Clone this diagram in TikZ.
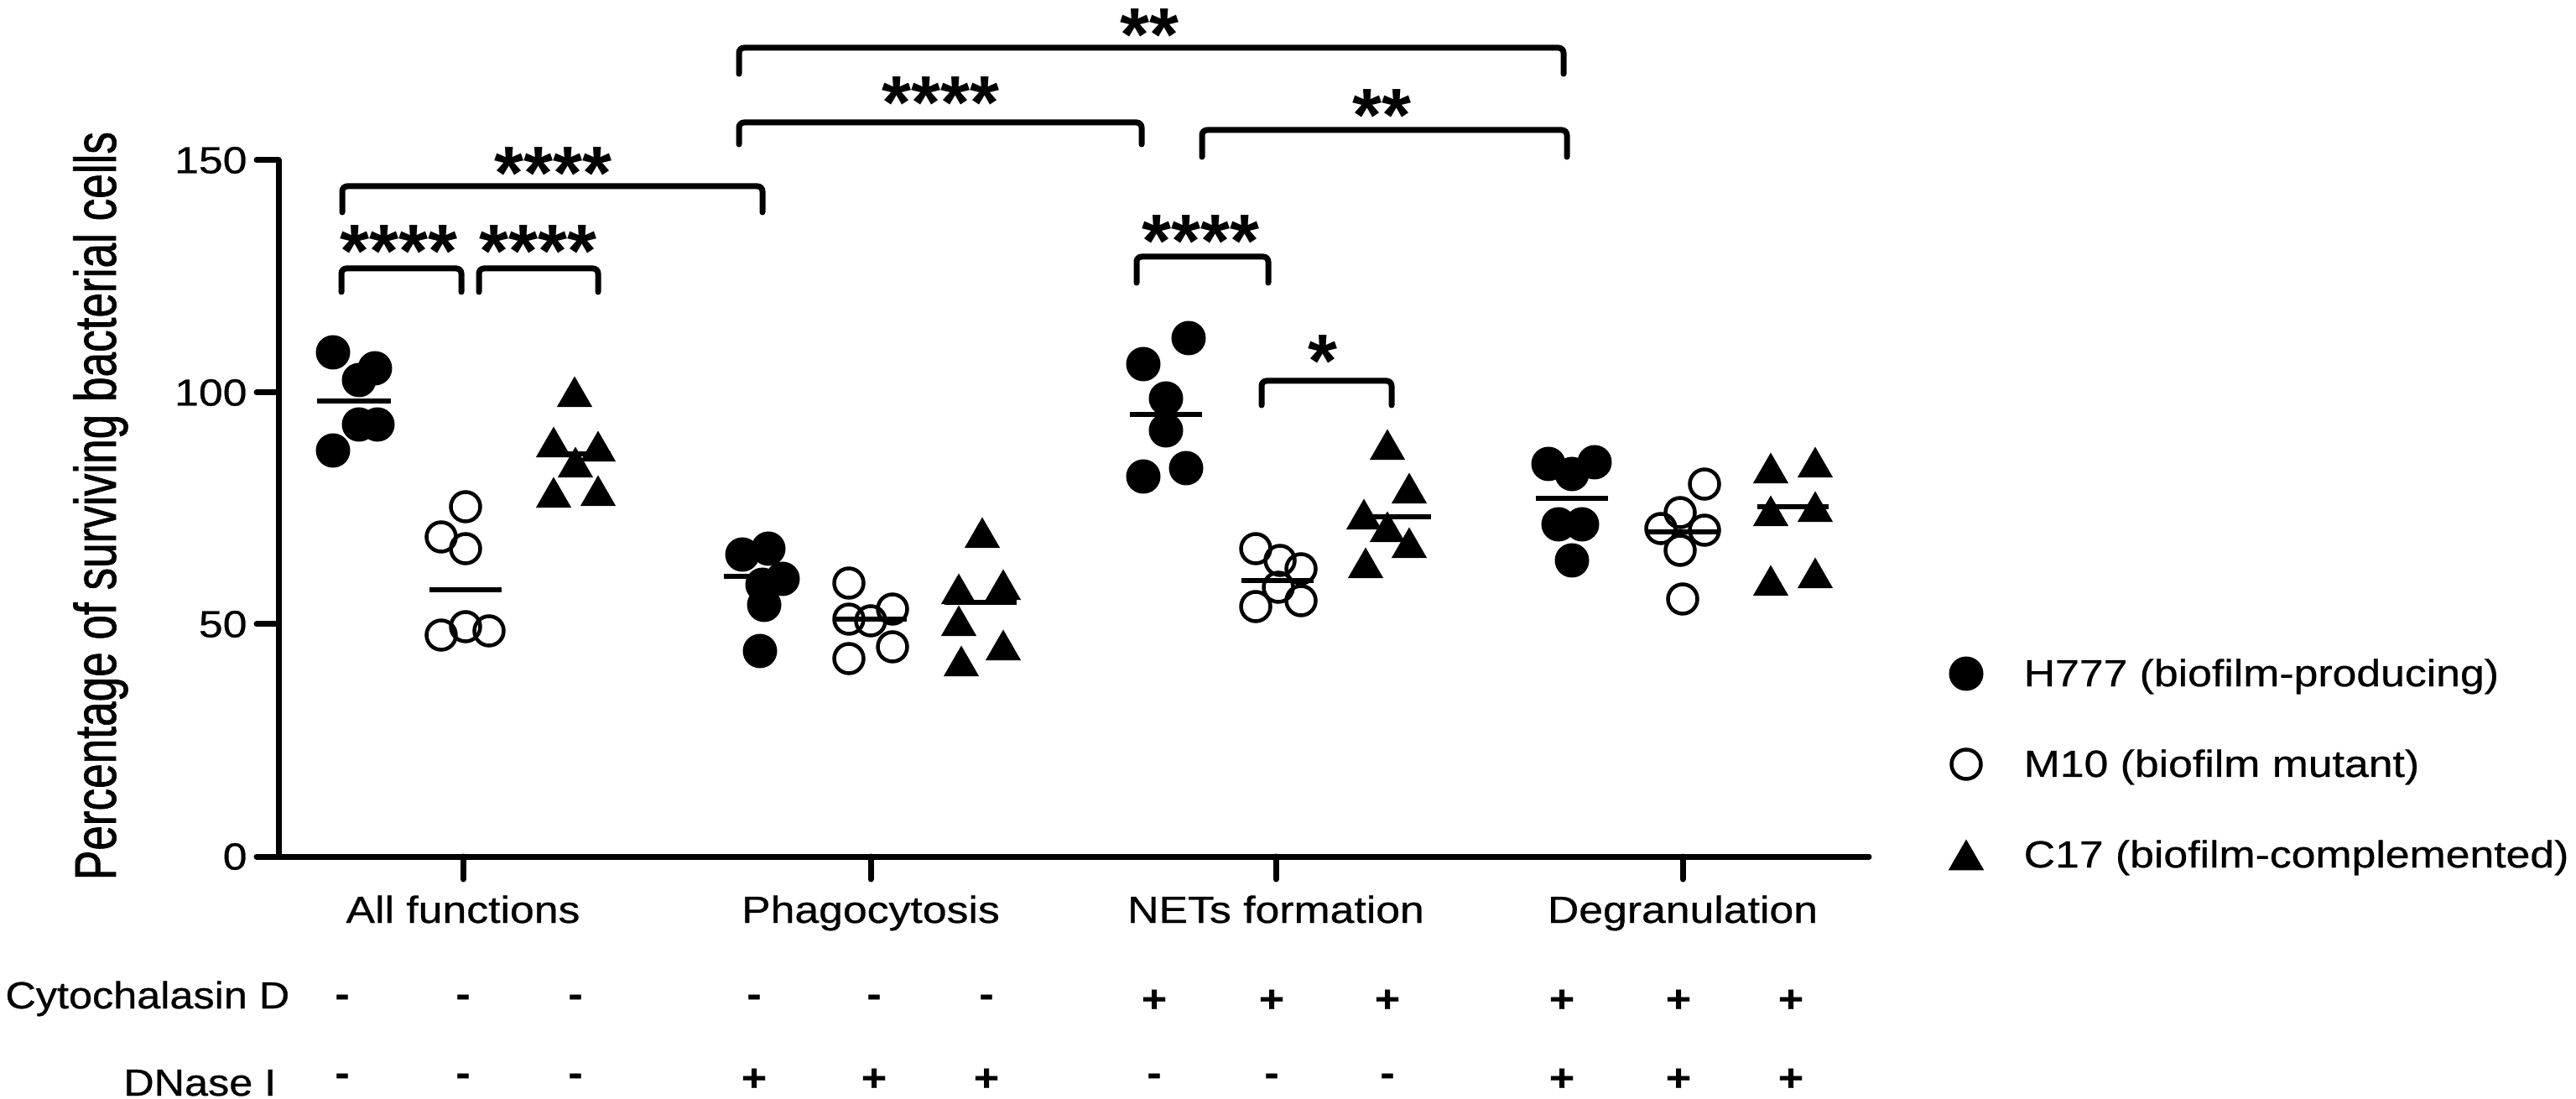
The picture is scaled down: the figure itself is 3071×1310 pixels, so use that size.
\documentclass[tikz,border=0pt]{standalone}
\usepackage{fontspec}
\usetikzlibrary{shapes.geometric}

\newfontfamily\plotfont{Liberation Sans}[FakeStretch=1.15, FakeBold=0.6]
\newfontfamily\rowfont{Liberation Sans}[FakeStretch=1.12, FakeBold=0.6]
\newfontfamily\ylabelfont{Liberation Sans}[FakeStretch=0.76, FakeBold=1]
\newfontfamily\starfont{Liberation Sans}

\begin{document}
\begin{tikzpicture}[
        x=0.1mm, y=-0.1mm,
        every node/.style={inner sep=0pt, font=\plotfont\fontsize{12.8pt}{15pt}\selectfont},
        axisline/.style={line width=0.7mm, line cap=round},
        h777/.style={circle, fill=black, minimum size=4.1mm},
        m10/.style={circle, draw=black, line width=0.45mm, minimum size=3.5mm},
        c17/.style={regular polygon, regular polygon sides=3, fill=black, minimum size=4.9mm, yshift=-0.6mm},
        meanline/.style={line width=0.55mm},
        bracket/.style={line width=0.7mm, line cap=round, rounded corners=0.6mm},
        stars/.style={anchor=base, font=\starfont\bfseries\fontsize{25.6pt}{26pt}\selectfont},
        pm/.style={font=\plotfont\bfseries\fontsize{12.8pt}{15pt}\selectfont},
        rowlabel/.style={anchor=base east, font=\rowfont\fontsize{12.8pt}{15pt}\selectfont}
    ]
    \useasboundingbox (0,0) rectangle (3071,1310);

    % axes
    \draw[axisline] (332,191) -- (332,1021) -- (2228,1021);
    \foreach \v/\y in {0/1021, 50/744, 100/468, 150/191}
        \draw[axisline] (332,\y) -- (306,\y) node[anchor=east, xshift=-0.8mm] (ytick\v) {\v};
    \foreach \x/\lab [count=\i] in {552/All functions, 1038/Phagocytosis, 1521/NETs formation, 2006/Degranulation} {
        \draw[axisline] (\x,1021) -- (\x,1048);
        \node[anchor=base] (cat\i) at (\x,1100) {\lab};
    }
    \node[rotate=90, anchor=base, font=\ylabelfont\fontsize{19.9pt}{22pt}\selectfont] (ylabel) at (138,603) {Percentage of surviving bacterial cells};

    % all functions
    \foreach \x/\y [count=\i] in {397/420, 447/439, 428/453, 428/506, 450/506, 397/537}
        \node[h777] (afh\i) at (\x,\y) {};
    \foreach \x/\y [count=\i] in {555/604, 526/640, 555/654, 526/757, 555/747, 583/752}
        \node[m10] (afm\i) at (\x,\y) {};
    \foreach \x/\y [count=\i] in {685/467, 660/527, 713/532, 686/551, 660/587, 713/585}
        \node[c17] (afc\i) at (\x,\y) {};
    \draw[meanline] (378,478) -- (466,478);
    \draw[meanline] (512,703) -- (598,703);
    \draw[meanline] (643,541) -- (728,541);

    % phagocytosis
    \foreach \x/\y [count=\i] in {885/661, 916/654, 933/690, 909/697, 911/721, 906/776}
        \node[h777] (phh\i) at (\x,\y) {};
    \foreach \x/\y [count=\i] in {1012/695, 1012/738, 1038/740, 1064/726, 1064/771, 1012/785}
        \node[m10] (phm\i) at (\x,\y) {};
    \foreach \x/\y [count=\i] in {1171/635, 1143/702, 1196/697, 1143/740, 1196/769, 1146/788}
        \node[c17] (phc\i) at (\x,\y) {};
    \draw[meanline] (863,687) -- (950,687);
    \draw[meanline] (995,738) -- (1081,738);
    \draw[meanline] (1126,718) -- (1212,718);

    % NETs formation
    \foreach \x/\y [count=\i] in {1363/434, 1417/403, 1390/475, 1390/513, 1363/568, 1414/558}
        \node[h777] (neh\i) at (\x,\y) {};
    \foreach \x/\y [count=\i] in {1497/654, 1526/668, 1551/678, 1497/723, 1551/716, 1524/700}
        \node[m10] (nem\i) at (\x,\y) {};
    \foreach \x/\y [count=\i] in {1654/530, 1680/582, 1626/613, 1654/628, 1680/647, 1628/671}
        \node[c17] (nec\i) at (\x,\y) {};
    \draw[meanline] (1347,494) -- (1433,494);
    \draw[meanline] (1480,692) -- (1566,692);
    \draw[meanline] (1620,616) -- (1706,616);

    % degranulation
    \foreach \x/\y [count=\i] in {1846/553, 1874/565, 1901/551, 1858/625, 1886/625, 1874/668}
        \node[h777] (deh\i) at (\x,\y) {};
    \foreach \x/\y [count=\i] in {2032/577, 2003/611, 1980/630, 2032/632, 2003/656, 2006/714}
        \node[m10] (dem\i) at (\x,\y) {};
    \foreach \x/\y [count=\i] in {2111/558, 2164/551, 2111/609, 2164/604, 2111/692, 2164/683}
        \node[c17] (dec\i) at (\x,\y) {};
    \draw[meanline] (1831,594) -- (1917,594);
    \draw[meanline] (1963,634) -- (2049,634);
    \draw[meanline] (2095,604) -- (2180,604);

    % significance brackets
    \foreach \xa/\xb/\yt/\yb/\sx/\sy/\lab [count=\i] in {
            407/550/320/348/476/280/****,
            571/713/320/348/642/280/****,
            408/909/222/253/660/187/****,
            881/1361/146/172/1122/103/****,
            881/1864/57/88/1370/22/**,
            1433/1868/155/187/1647/118/**,
            1355/1512/306/337/1432/268/****,
            1504/1659/454/483/1577/411/*} {
        \draw[bracket] (\xa,\yb) |- (\xb,\yt) -- (\xb,\yb);
        \node[stars] (sig\i) at (\sx,{\sy+51}) {\lab};
    }

    % treatment rows
    \node[rowlabel] (cyto) at (346,1202) {Cytochalasin D};
    \node[rowlabel] (dnase) at (330,1306) {DNase I};
    \foreach \x/\c/\d [count=\i] in {408/-/-, 552/-/-, 686/-/-, 899/-/+, 1042/-/+, 1176/-/+,
            1376/+/-, 1516/+/-, 1654/+/-, 1862/+/+, 2001/+/+, 2135/+/+} {
        \node[pm] (cyto\i) at (\x,1193) {\c};
        \node[pm] (dnase\i) at (\x,1287) {\d};
    }

    % legend
    \node[h777] (legh) at (2344,803) {};
    \node[m10] (legm) at (2344,911) {};
    \node[c17] (legc) at (2344,1019) {};
    \node[anchor=base west] (leghtext) at (2412,818) {H777 (biofilm-producing)};
    \node[anchor=base west] (legmtext) at (2412,926) {M10 (biofilm mutant)};
    \node[anchor=base west] (legctext) at (2412,1034) {C17 (biofilm-complemented)};
\end{tikzpicture}
\end{document}
